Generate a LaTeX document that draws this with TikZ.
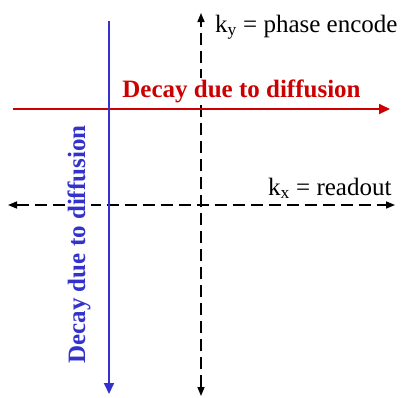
\documentclass[tikz,border=0pt]{standalone}
\usepackage{fontspec}
\setmainfont{Liberation Serif}
\usetikzlibrary{arrows.meta}
\definecolor{dred}{RGB}{204,0,0}
\definecolor{dblue}{RGB}{51,51,204}

\begin{document}
\begin{tikzpicture}[x=1pt, y=-1pt,
    kaxis/.style={line width=1.5pt, dash pattern=on 12pt off 6pt},
    ktip/.style={Triangle[length=9pt, width=7pt]},
    decay_line/.style={line width=1.8pt, -{Triangle[length=11pt, width=10pt]}},
    klabel/.style={font=\fontsize{25}{30}\selectfont, inner sep=0pt},
    decay_label/.style={font=\fontsize{25}{30}\selectfont\bfseries, fill=white, inner sep=1pt}
]
\useasboundingbox (0,0) rectangle (403,397);

% k-space axes
\coordinate (kx_l) at (8,205);
\coordinate (kx_r) at (395,205);
\coordinate (ky_t) at (201,13);
\coordinate (ky_b) at (201,396);

\draw[kaxis, {Triangle[length=9pt, width=7pt]}-{Triangle[length=9pt, width=7pt]}] (kx_l) -- (kx_r);
\draw[kaxis, {Triangle[length=9pt, width=7pt]}-{Triangle[length=9pt, width=7pt]}] (ky_b) -- (ky_t);

% diffusion decay directions
\coordinate (dh_l) at (13,109);
\coordinate (dh_r) at (390,109);
\coordinate (dv_t) at (109,21);
\coordinate (dv_b) at (109,394);

\draw[decay_line, dred] (dh_l) -- (dh_r);
\draw[decay_line, dblue] (dv_t) -- (dv_b);

% labels
\node[klabel, anchor=base west] (ky_lab) at (215,32) {k\textsubscript{y} = phase encode};
\node[klabel, anchor=base west] (kx_lab) at (268,195) {k\textsubscript{x} = readout};
\node[decay_label, text=dred, anchor=base] (dh_lab) at (241.5,97) {Decay due to diffusion};
\node[decay_label, text=dblue, anchor=base, rotate=90] (dv_lab) at (85,244.5) {Decay due to diffusion};

\end{tikzpicture}
\end{document}
